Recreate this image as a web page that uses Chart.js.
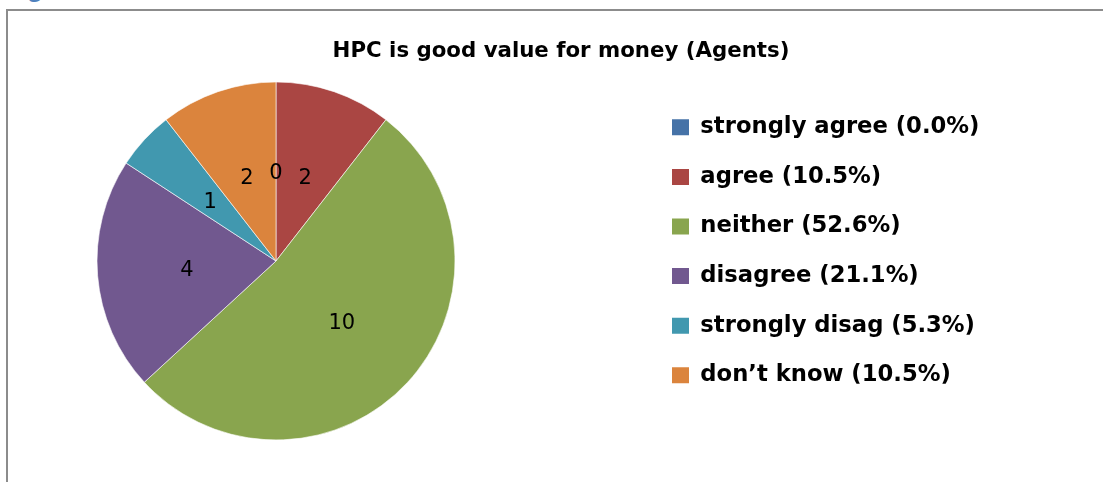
<!DOCTYPE html>
<html>
<head>
<meta charset="utf-8">
<script src="https://cdn.jsdelivr.net/npm/chart.js@4/dist/chart.umd.min.js"></script>
<style>
  html, body { margin: 0; padding: 0; width: 1103px; height: 482px; overflow: hidden; background: #fff; }
  .frame { position: absolute; left: 6px; top: 9px; width: 1200px; height: 600px;
           border-left: 2px solid #8c8c8c; border-top: 2px solid #8c8c8c; }
  .heading { position: absolute; left: 28px; top: -25px; font: bold 26px Lato; line-height: 1; color: #4f81bd; }
  #wrap { position: absolute; left: -120px; top: 0; width: 1360px; height: 482px; }
</style>
</head>
<body>
<div class="frame"></div>
<div class="heading">g</div>
<div id="wrap"><canvas id="chart" width="1360" height="482"></canvas></div>
<script>
// Survey answers: "HPC is good value for money" (agents)
const chartTitle = 'HPC is good value for money (Agents)';
const categories = ['strongly agree', 'agree', 'neither', 'disagree', 'strongly disag', 'don\u2019t know'];
const counts = [0, 2, 10, 4, 1, 2];
const sliceColors = ['#4572A7', '#AA4643', '#89A54E', '#71588F', '#4198AF', '#DB843D'];

const FONT = 'DejaVu Sans';

// Width kept to the right of the pie: the legend plus the blank margin after it.
const LEGEND_BAND = 570;

// Empty layout box placed after the legend so the title stays centred on the whole frame.
// display:false keeps it out of the share of width the layout hands to side boxes.
const legendMargin = {
  id: 'legendMargin',
  beforeInit(chart) {
    Chart.layouts.addBox(chart, {
      position: 'right', weight: 2000, fullSize: false, options: { display: false },
      left: 0, top: 0, right: 0, bottom: 0, width: 0, height: 0,
      isHorizontal() { return false; },
      update(maxWidth, maxHeight) {
        const used = chart.legend ? chart.legend.width : 0;
        this.width = Math.max(LEGEND_BAND - used, 0);
        this.height = maxHeight;
      },
      draw() {}
    });
  }
};

// Count written in the middle of each slice.
const sliceValueLabels = {
  id: 'sliceValueLabels',
  afterDatasetsDraw(chart) {
    const { ctx } = chart;
    const meta = chart.getDatasetMeta(0);
    const values = chart.data.datasets[0].data;
    ctx.save();
    ctx.font = `21px "${FONT}"`;
    ctx.fillStyle = '#000';
    ctx.textAlign = 'center';
    ctx.textBaseline = 'middle';
    meta.data.forEach((arc, i) => {
      const p = arc.getCenterPoint();
      ctx.fillText(String(values[i]), p.x, p.y + 2);
    });
    ctx.restore();
  }
};

new Chart(document.getElementById('chart'), {
  type: 'pie',
  data: {
    labels: categories,
    datasets: [{
      data: counts,
      backgroundColor: sliceColors,
      borderColor: '#ffffff',
      borderWidth: 0.6,
      radius: 179
    }]
  },
  options: {
    responsive: false,
    devicePixelRatio: 1,
    animation: false,
    layout: { padding: { left: 26.9, right: 24.9, top: 10, bottom: 49.05 } },
    plugins: {
      title: {
        display: true,
        text: chartTitle,
        color: '#000',
        font: { family: FONT, weight: 'bold', size: 21.3 },
        padding: { top: 28.2, bottom: 25.29 }
      },
      legend: {
        position: 'right',
        align: 'start',
        fullSize: false,
        onClick: null,
        labels: {
          boxWidth: 17,
          boxHeight: 16,
          padding: 26.9,
          color: '#000',
          font: { family: FONT, weight: 'bold', size: 22.7 },
          generateLabels(chart) {
            const values = chart.data.datasets[0].data;
            const total = values.reduce((a, b) => a + b, 0);
            return chart.data.labels.map((name, i) => ({
              text: `${name} (${(values[i] / total * 100).toFixed(1)}%)`,
              fillStyle: sliceColors[i],
              strokeStyle: sliceColors[i],
              lineWidth: 0,
              fontColor: '#000',
              hidden: false,
              index: i
            }));
          }
        }
      },
      tooltip: { enabled: false }
    }
  },
  plugins: [legendMargin, sliceValueLabels]
});
</script>
</body>
</html>
